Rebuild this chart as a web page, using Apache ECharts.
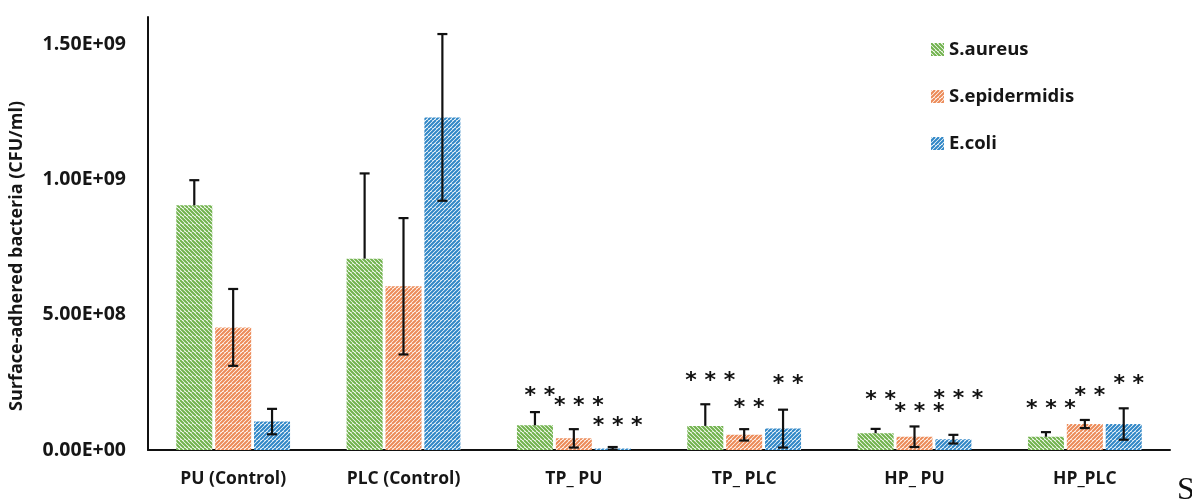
<!DOCTYPE html>
<html>
<head>
<meta charset="utf-8">
<script src="https://cdn.jsdelivr.net/npm/echarts@6/dist/echarts.min.js"></script>
<style>
  html, body { margin: 0; padding: 0; background: #fff; }
  #chart { width: 1192px; height: 502px; }
</style>
</head>
<body>
<div id="chart"></div>
<script>
// ---- data ----
const categories = ['PU (Control)', 'PLC (Control)', 'TP_ PU', 'TP_ PLC', 'HP_ PU', 'HP_PLC'];
const seriesNames = ['S.aureus', 'S.epidermidis', 'E.coli'];

const saureus      = [9.04e8, 7.07e8, 9.1e7, 8.9e7, 6.2e7, 4.9e7];
const saureusErr   = [9.3e7, 3.15e8, 4.9e7, 8.0e7, 1.6e7, 1.7e7];   // drawn plus only
const sepidermidis = [4.53e8, 6.05e8, 4.3e7, 5.6e7, 4.9e7, 9.6e7];
const sepiErr      = [1.42e8, 2.52e8, 3.4e7, 2.1e7, 3.8e7, 1.5e7];
const ecoli        = [1.05e8, 1.229e9, 6e6, 7.9e7, 4.0e7, 9.6e7];
const ecoliErr     = [4.7e7, 3.08e8, 5e6, 7.0e7, 1.6e7, 5.8e7];

// significance marks and the heights at which they are written
const saureusStars = ['', '', '**', '***', '**', '***'];
const saureusStarY = [null, null, 2.26e8, 2.81e8, 2.11e8, 1.78e8];
const sepiStars    = ['', '', '***', '**', '***', '**'];
const sepiStarY    = [null, null, 1.89e8, 1.81e8, 1.67e8, 2.26e8];
const ecoliStars   = ['', '', '***', '**', '***', '**'];
const ecoliStarY   = [null, null, 1.15e8, 2.67e8, 2.15e8, 2.67e8];

const yTickInterval = 5e8;
const yMax = 1.6e9;

// ---- styling ----
const FONT = '"Open Sans", "Noto Sans", sans-serif';
const TEXT = '#161616';
const BAR_W = 36;
const GAP_FRAC = 0.08;
const colors = ['#70b24c', '#ec8a57', '#2f86c6'];
const dirs = ['\\', '/', '/'];

function hatch(color, dir) {
  const s = 8, c = document.createElement('canvas');
  c.width = s; c.height = s;
  const g = c.getContext('2d');
  g.fillStyle = '#ffffff';
  g.fillRect(0, 0, s, s);
  g.strokeStyle = color;
  g.lineWidth = 2.0;
  g.beginPath();
  for (let k = -2 * s; k <= 2 * s; k += 4) {
    if (dir === '\\') { g.moveTo(k, 0); g.lineTo(k + s, s); }
    else { g.moveTo(k, s); g.lineTo(k + s, 0); }
  }
  g.stroke();
  return { image: c, repeat: 'repeat' };
}

function fmtExp(v) {
  if (v === 0) return '0.00E+00';
  const e = Math.floor(Math.log10(v) + 1e-9);
  const m = v / Math.pow(10, e);
  return m.toFixed(2) + 'E+' + String(e).padStart(2, '0');
}

const values = [saureus, sepidermidis, ecoli];
const errs = [saureusErr, sepiErr, ecoliErr];
const plusOnly = [true, false, false];
const stars = [saureusStars, sepiStars, ecoliStars];
const starY = [saureusStarY, sepiStarY, ecoliStarY];

function slotOffset(slot) {
  return (slot - 1) * (BAR_W + BAR_W * GAP_FRAC);
}

const barSeries = seriesNames.map((name, i) => ({
  name: name,
  type: 'bar',
  data: values[i],
  barWidth: BAR_W,
  barGap: (GAP_FRAC * 100) + '%',
  itemStyle: { color: hatch(colors[i], dirs[i]) },
  z: 2
}));

const errSeries = seriesNames.map((name, i) => ({
  type: 'custom',
  name: name + ' err',
  silent: true,
  z: 5,
  data: values[i].map((v, k) => [k, v, errs[i][k]]),
  renderItem: function (params, api) {
    const k = api.value(0), v = api.value(1), e = api.value(2);
    const top = api.coord([k, v + e]);
    const bot = api.coord([k, plusOnly[i] ? v : v - e]);
    const x = top[0] + slotOffset(i);
    const cap = 5;
    const st = { stroke: '#111', lineWidth: 2.2 };
    const children = [
      { type: 'line', shape: { x1: x, y1: top[1], x2: x, y2: bot[1] }, style: st },
      { type: 'line', shape: { x1: x - cap, y1: top[1], x2: x + cap, y2: top[1] }, style: st }
    ];
    if (!plusOnly[i]) {
      children.push({ type: 'line', shape: { x1: x - cap, y1: bot[1], x2: x + cap, y2: bot[1] }, style: st });
    }
    return { type: 'group', children: children };
  }
}));

const starSeries = seriesNames.map((name, i) => ({
  type: 'custom',
  name: name + ' sig',
  silent: true,
  z: 6,
  data: starY[i].map((y, k) => [k, y === null ? 0 : y, stars[i][k]]),
  renderItem: function (params, api) {
    const k = api.value(0);
    const txt = stars[i][k];
    if (!txt) return null;
    const p = api.coord([k, api.value(1)]);
    return {
      type: 'text',
      x: p[0] + slotOffset(i) + 5,
      y: p[1] + 7,
      style: {
        text: txt.split('').join(' '),
        font: 'bold 22px "DejaVu Sans"',
        fill: '#111',
        align: 'center',
        verticalAlign: 'middle'
      }
    };
  }
}));

const chart = echarts.init(document.getElementById('chart'), null, { renderer: 'canvas' });
chart.setOption({
  animation: false,
  backgroundColor: '#ffffff',
  grid: { left: 148, right: 22, top: 17, bottom: 52, containLabel: false },
  legend: {
    data: seriesNames,
    orient: 'vertical',
    left: 926,
    top: 35,
    icon: 'rect',
    itemWidth: 13,
    itemHeight: 13,
    itemGap: 28,
    textStyle: { fontFamily: FONT, fontSize: 18.5, fontWeight: 'bold', color: TEXT }
  },
  xAxis: {
    type: 'category',
    data: categories,
    axisLine: { lineStyle: { color: '#111', width: 2 } },
    axisTick: { show: false },
    axisLabel: { fontFamily: FONT, fontSize: 17.5, fontWeight: 'bold', color: TEXT, margin: 20, interval: 0 }
  },
  yAxis: {
    type: 'value',
    min: 0,
    max: yMax,
    interval: yTickInterval,
    axisLine: { show: true, lineStyle: { color: '#111', width: 2 } },
    axisTick: { show: false },
    splitLine: { show: false },
    axisLabel: {
      fontFamily: FONT, fontSize: 19.5, fontWeight: 'bold', color: TEXT, margin: 22,
      showMaxLabel: false,
      formatter: fmtExp
    }
  },
  graphic: [
    {
      type: 'text',
      x: 17, y: 256,
      rotation: Math.PI / 2,
      style: {
        text: 'Surface-adhered bacteria (CFU/ml)',
        font: 'bold 18px ' + FONT,
        fill: TEXT,
        align: 'center',
        verticalAlign: 'middle'
      }
    },
    {
      type: 'text',
      left: 1177, top: 475,
      style: { text: 'S', font: '32px "Liberation Serif"', fill: '#111' }
    }
  ],
  series: barSeries.concat(errSeries, starSeries)
});
</script>
</body>
</html>
